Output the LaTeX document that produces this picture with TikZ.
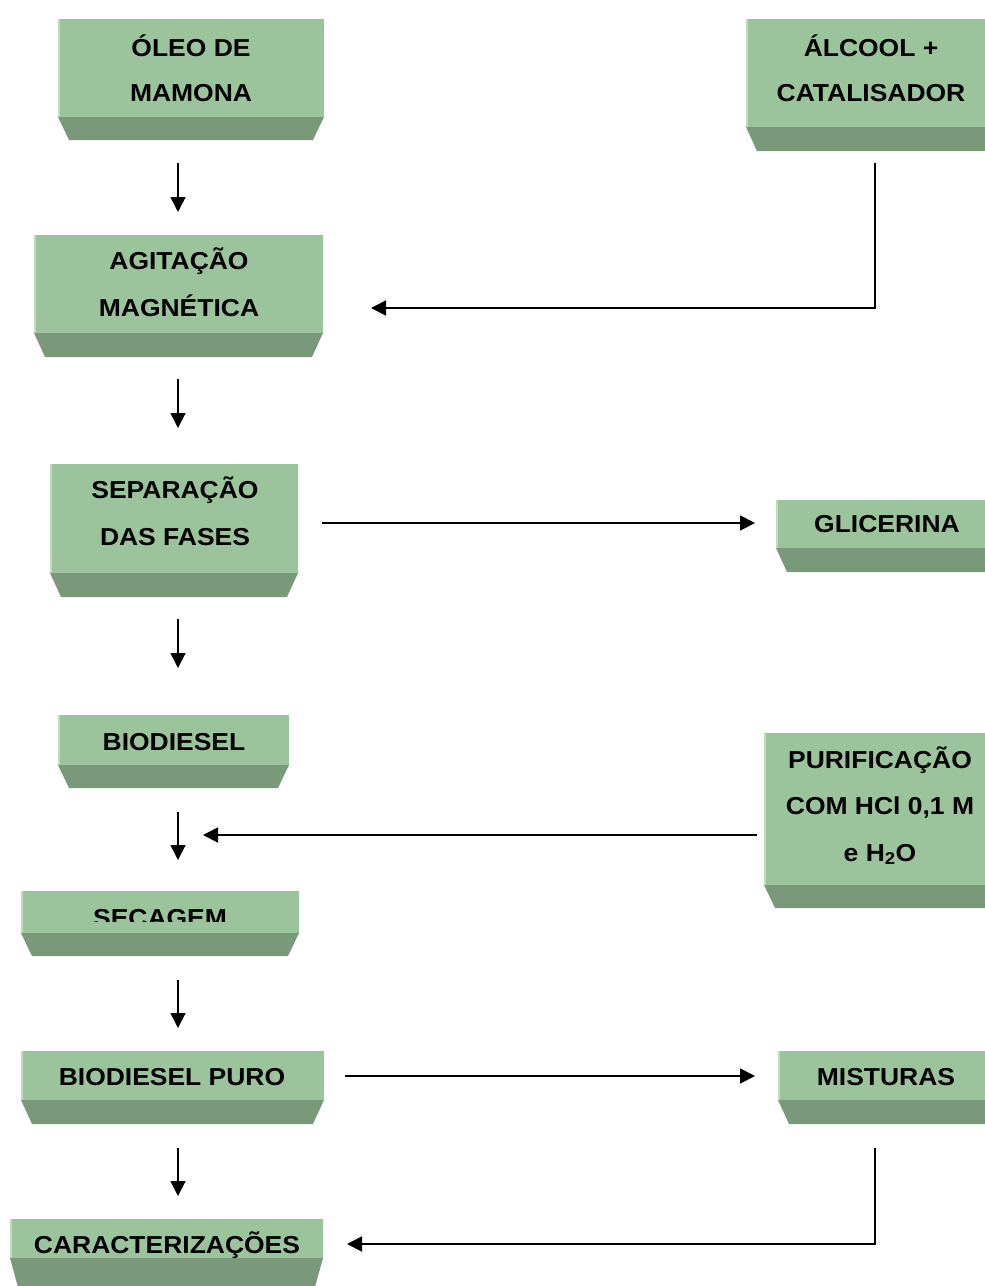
\documentclass[tikz,border=0pt]{standalone}
\usepackage{fontspec}
\setmainfont{Liberation Sans}
\usetikzlibrary{arrows.meta,calc,fit}
\definecolor{boxfill}{RGB}{156,196,156}
\definecolor{boxdark}{RGB}{122,152,122}
\definecolor{boxlight}{RGB}{186,224,186}
\newcommand{\TT}[1]{\scalebox{1.08}[1]{#1}}
\newcommand{\gbox}[6]{%
  \node[boxrect, fit={(#2,#3) (#4,#5)}] (#1) {};
  \fill[boxdark] (#1.south west) -- (#1.south east) -- ($(#1.south east)+(-11,#6)$) -- ($(#1.south west)+(11,#6)$) -- cycle;
  \draw[boxlight, line width=1.5pt] ([xshift=0.75pt]#1.north west) -- ([xshift=0.75pt]#1.south west);
}
\begin{document}
\begin{tikzpicture}[x=1pt,y=-1pt,
  boxrect/.style={fill=boxfill, draw=none, inner sep=0pt, outer sep=0pt, rectangle},
  lbl/.style={anchor=base, inner sep=0pt, font=\fontsize{24.5}{29}\selectfont\bfseries},
  arr/.style={line width=1.8pt, -{Triangle[length=15pt,width=15pt]}}
]
\clip (0,0) rectangle (985,1286);
\fill[white] (0,0) rectangle (985,1286);

% boxes
\gbox{oleo}{58}{19}{324}{117}{23}
\gbox{alcool}{746}{19}{1010}{127}{24}
\gbox{agit}{34}{235}{323}{333}{24}
\gbox{sep}{50}{464}{298}{573}{24}
\gbox{glic}{776}{500}{1010}{548}{24}
\gbox{bio}{58}{715}{289}{765}{23}
\gbox{puri}{764}{733}{1010}{885}{23}
\gbox{sec}{21}{891}{299}{933}{23}
\gbox{biopuro}{21}{1051}{324}{1100}{24}
\gbox{mist}{778}{1051}{1010}{1100}{24}
\gbox{carac}{10}{1219}{323}{1258}{40}

% labels
\node[lbl] (oleoA) at (191,56) {\TT{ÓLEO DE}};
\node[lbl] (oleoB) at (191,101) {\TT{MAMONA}};
\node[lbl] (alcA) at (871,56) {\TT{ÁLCOOL +}};
\node[lbl] (alcB) at (871,101) {\TT{CATALISADOR}};
\node[lbl] (agitA) at (179,269) {\TT{AGITAÇÃO}};
\node[lbl] (agitB) at (179,316) {\TT{MAGNÉTICA}};
\node[lbl] (sepA) at (175,498) {\TT{SEPARAÇÃO}};
\node[lbl] (sepB) at (175,545) {\TT{DAS FASES}};
\node[lbl] (glicT) at (887,532) {\TT{GLICERINA}};
\node[lbl] (bioT) at (174,750) {\TT{BIODIESEL}};
\node[lbl] (puriA) at (880,768) {\TT{PURIFICAÇÃO}};
\node[lbl] (puriB) at (880,814) {\TT{COM HCl 0,1 M}};
\node[lbl] (puriC) at (880,861) {\TT{e H\textsubscript{2}O}};
\begin{scope}
  \clip (21,891) rectangle (299,921);
  \node[lbl] (secT) at (160,926) {\TT{SECAGEM}};
\end{scope}
\node[lbl] (biopuroT) at (172,1085) {\TT{BIODIESEL PURO}};
\node[lbl] (mistT) at (886,1085) {\TT{MISTURAS}};
\node[lbl] (caracT) at (167,1253) {\TT{CARACTERIZAÇÕES}};

% connector end points
\coordinate (a1s) at (178,163);  \coordinate (a1e) at (178,212);
\coordinate (a2s) at (875,163);  \coordinate (a2m) at (875,308); \coordinate (a2e) at (371,308);
\coordinate (a3s) at (178,379);  \coordinate (a3e) at (178,428);
\coordinate (a4s) at (178,619);  \coordinate (a4e) at (178,668);
\coordinate (a5s) at (322,523);  \coordinate (a5e) at (755,523);
\coordinate (a6s) at (178,812);  \coordinate (a6e) at (178,860);
\coordinate (a7s) at (757,835);  \coordinate (a7e) at (203,835);
\coordinate (a8s) at (178,980);  \coordinate (a8e) at (178,1028);
\coordinate (a9s) at (345,1076); \coordinate (a9e) at (755,1076);
\coordinate (a10s) at (178,1148); \coordinate (a10e) at (178,1196);
\coordinate (a11s) at (875,1148); \coordinate (a11m) at (875,1244); \coordinate (a11e) at (347,1244);

% connectors
\draw[arr] (a1s) -- (a1e);
\draw[arr] (a2s) -- (a2m) -- (a2e);
\draw[arr] (a3s) -- (a3e);
\draw[arr] (a4s) -- (a4e);
\draw[arr] (a5s) -- (a5e);
\draw[arr] (a6s) -- (a6e);
\draw[arr] (a7s) -- (a7e);
\draw[arr] (a8s) -- (a8e);
\draw[arr] (a9s) -- (a9e);
\draw[arr] (a10s) -- (a10e);
\draw[arr] (a11s) -- (a11m) -- (a11e);
\end{tikzpicture}
\end{document}
